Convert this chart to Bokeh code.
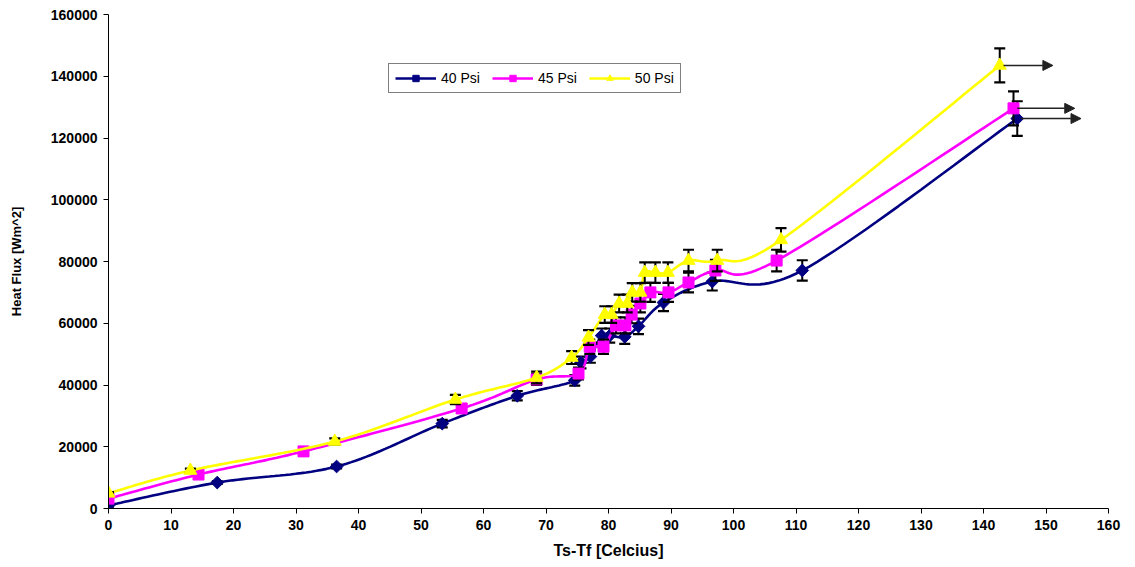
import numpy as np
from bokeh.plotting import figure
from bokeh.models import (Range1d, Legend, LegendItem, Arrow, NormalHead,
                          BasicTickFormatter, FixedTicker)
from bokeh.embed import file_html
from bokeh.resources import INLINE

# ---------------- data ----------------
x40 = [0, 17.4, 36.5, 53.4, 65.4, 74.6, 75.6, 77.1, 78.9, 80.2, 82.6, 84.8, 88.8, 96.6, 111.0, 145.4]
y40 = [1000, 8400, 13600, 27500, 36500, 41500, 47300, 49200, 56000, 56000, 55600, 59000, 66700, 73500, 77100, 126300]
e40 = [400, 400, 600, 1200, 1500, 1700, 1900, 2000, 2300, 2300, 2300, 2500, 2800, 2900, 3300, 5600]

x45 = [0, 14.4, 31.2, 56.5, 68.5, 75.2, 77.0, 79.2, 81.2, 82.7, 83.7, 85.1, 86.7, 89.6, 92.8, 97.1, 106.9, 144.8]
y45 = [3200, 11000, 18500, 32400, 41800, 43700, 52400, 52400, 59300, 59300, 62800, 66400, 70000, 70000, 73200, 77100, 80300, 129600]
e45 = [400, 500, 800, 1400, 1800, 1900, 2300, 2300, 2600, 2600, 2800, 2900, 3100, 3100, 3200, 3400, 3500, 5500]

x50 = [0, 13.1, 36.2, 55.5, 68.5, 74.1, 76.8, 79.4, 80.5, 81.7, 83.0, 83.8, 85.1, 85.8, 87.5, 89.5, 92.8, 97.4, 107.6, 142.6]
y50 = [4900, 12300, 21700, 35300, 42400, 48900, 55400, 62800, 62800, 66400, 66400, 70000, 70000, 76400, 76400, 76400, 80300, 80300, 87000, 143500]
e50 = [400, 600, 1000, 1500, 1900, 2100, 2400, 2700, 2700, 2900, 2900, 3000, 3000, 3300, 3300, 3300, 3500, 3500, 3800, 5500]

labels = ["40 Psi", "45 Psi", "50 Psi"]
arrow_dx = [10.2, 9.8, 8.5]

x_ticks = [0, 10, 20, 30, 40, 50, 60, 70, 80, 90, 100, 110, 120, 130, 140, 150, 160]
y_ticks = [0, 20000, 40000, 60000, 80000, 100000, 120000, 140000, 160000]

# ---------------- helpers ----------------
def smooth(xs, ys, n=24):
    P = np.column_stack([np.asarray(xs, float), np.asarray(ys, float)])
    out = []
    m = len(P)
    t = np.linspace(0, 1, n)[:, None]
    for i in range(m - 1):
        p0 = P[i - 1] if i > 0 else P[i]
        p1 = P[i]
        p2 = P[i + 1]
        p3 = P[i + 2] if i + 2 < m else P[i + 1]
        b1 = p1 + (p2 - p0) / 6.0
        b2 = p2 - (p3 - p1) / 6.0
        seg = ((1 - t) ** 3) * p1 + 3 * ((1 - t) ** 2) * t * b1 + 3 * (1 - t) * t ** 2 * b2 + t ** 3 * p2
        out.append(seg if i == 0 else seg[1:])
    arr = np.vstack(out)
    return arr[:, 0], arr[:, 1]

FONT = "Liberation Sans"

p = figure(width=1135, height=567, output_backend="svg", toolbar_location=None,
           x_range=Range1d(0, 160), y_range=Range1d(0, 160000),
           min_border_left=108, min_border_right=27, min_border_top=14, min_border_bottom=59)
p.xgrid.visible = False
p.ygrid.visible = False
p.outline_line_color = None
p.background_fill_color = "white"
p.border_fill_color = "white"

p.xaxis.ticker = FixedTicker(ticks=x_ticks)
p.yaxis.ticker = FixedTicker(ticks=y_ticks)
p.yaxis.formatter = BasicTickFormatter(use_scientific=False)
for ax in (p.xaxis, p.yaxis):
    ax.axis_line_color = "black"
    ax.axis_line_width = 1
    ax.major_tick_line_color = "black"
    ax.major_tick_in = 0
    ax.major_tick_out = 5
    ax.minor_tick_line_color = None
    ax.major_label_text_font = FONT
    ax.major_label_text_font_style = "bold"
    ax.major_label_text_font_size = "14px"
    ax.major_label_text_color = "black"
    ax.axis_label_text_font = FONT
    ax.axis_label_text_font_style = "bold"
    ax.axis_label_text_color = "black"
    ax.major_label_standoff = 6

p.xaxis.axis_label = "Ts-Tf [Celcius]"
p.xaxis.axis_label_text_font_size = "16px"
p.xaxis.axis_label_standoff = 9
p.yaxis.axis_label = "Heat Flux [Wm^2]"
p.yaxis.axis_label_text_font_size = "13px"
p.yaxis.axis_label_standoff = 24

series = [
    (x40, y40, e40, "#000080", "square", 9, np.pi / 4),
    (x45, y45, e45, "#FF00FF", "square", 11, 0),
    (x50, y50, e50, "#FFFF00", "triangle", 13, 0),
]

items = []
for (xs, ys, es, col, mk, sz, ang), lab, adx in zip(series, labels, arrow_dx):
    sx, sy = smooth(xs, ys)
    ln = p.line(sx, sy, line_color=col, line_width=2.6)
    xa = np.asarray(xs, float)
    ya = np.asarray(ys, float)
    ea = np.asarray(es, float)
    p.segment(xa, ya - ea, xa, ya + ea, line_color="black", line_width=2)
    p.scatter(xa, ya + ea, marker="dash", size=11, line_color="black", line_width=2.2)
    p.scatter(xa, ya - ea, marker="dash", size=11, line_color="black", line_width=2.2)
    sc = p.scatter(xa, ya, marker=mk, size=sz, angle=ang, fill_color=col, line_color=col, line_width=1)
    items.append(LegendItem(label=lab, renderers=[ln, sc]))
    p.add_layout(Arrow(end=NormalHead(size=10, fill_color="#222222", line_color="#222222", line_width=1),
                       x_start=xs[-1] + 0.6, y_start=ys[-1], x_end=xs[-1] + adx, y_end=ys[-1],
                       line_color="#222222", line_width=1.5))

legend = Legend(items=items, location=(280, 415), orientation="horizontal",
                glyph_width=41, glyph_height=16, label_standoff=5, spacing=12, padding=6,
                margin=0, border_line_color="black", border_line_width=1,
                background_fill_color="white", background_fill_alpha=1.0,
                label_text_font=FONT, label_text_font_size="14px", label_text_color="black")
p.add_layout(legend)

open("out.html", "w").write(file_html(p, INLINE))
